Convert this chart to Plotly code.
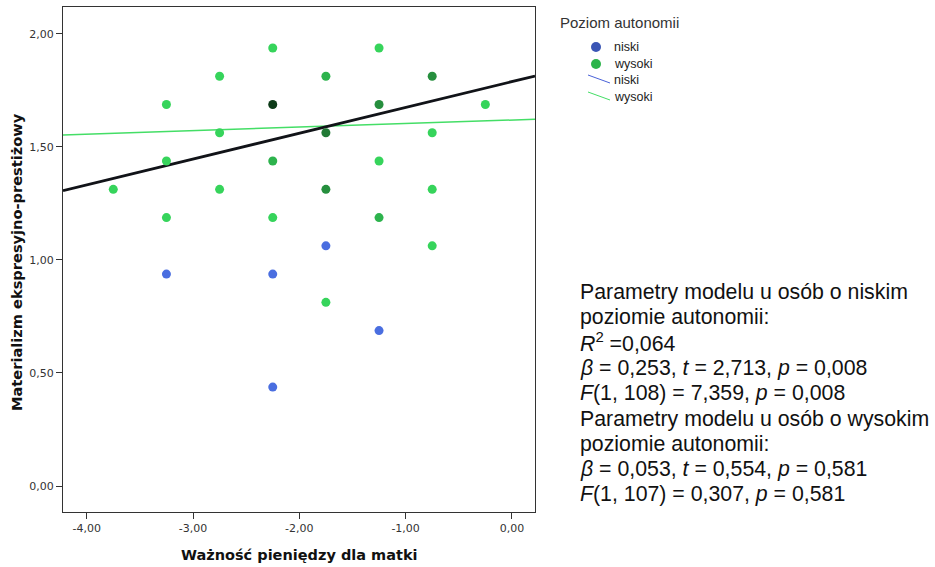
import plotly.graph_objects as go

# ---- data ----
high_x = [-2.25, -1.25, -2.75, -1.75, -0.75, -3.25, -2.25, -1.25, -0.25,
          -2.75, -1.75, -0.75, -3.25, -2.25, -1.25, -3.75, -2.75, -1.75, -0.75,
          -3.25, -2.25, -1.25, -0.75, -1.75]
high_y = [1.9375, 1.9375, 1.8125, 1.8125, 1.8125, 1.6875, 1.6875, 1.6875, 1.6875,
          1.5625, 1.5625, 1.5625, 1.4375, 1.4375, 1.4375, 1.3125, 1.3125, 1.3125, 1.3125,
          1.1875, 1.1875, 1.1875, 1.0625, 0.8125]
high_n = [1, 1, 1, 2, 3, 1, 6, 3, 1,
          1, 4, 1, 1, 2, 1, 1, 1, 3, 1,
          1, 1, 2, 1, 1]

low_x = [-1.75, -3.25, -2.25, -1.25, -2.25]
low_y = [1.0625, 0.9375, 0.9375, 0.6875, 0.4375]

# fit lines: intercept, slope
fit_low = (1.789, 0.1142)
fit_high = (1.619, 0.0156)

x_range = [-4.223, 0.217]
y_range = [-0.115, 2.119]

x_ticks = [-4, -3, -2, -1, 0]
x_tick_labels = ["-4,00", "-3,00", "-2,00", "-1,00", "0,00"]
y_ticks = [0, 0.5, 1.0, 1.5, 2.0]
y_tick_labels = ["0,00", "0,50", "1,00", "1,50", "2,00"]

legend_title = "Poziom autonomii"
legend_labels = ["niski", "wysoki"]

stats_lines = [
    "Parametry modelu u osób o niskim",
    "poziomie autonomii:",
    "<i>R</i><sup>2</sup> =0,064",
    "<i>β</i> = 0,253, <i>t</i> = 2,713, <i>p</i> = 0,008",
    "<i>F</i>(1, 108) = 7,359, <i>p</i> = 0,008",
    "Parametry modelu u osób o wysokim",
    "poziomie autonomii:",
    "<i>β</i> = 0,053, <i>t</i> = 0,554, <i>p</i> = 0,581",
    "<i>F</i>(1, 107) = 0,307, <i>p</i> = 0,581",
]

# ---- styles ----
FONT = "Liberation Sans, Arial, sans-serif"
FONT_AX = "DejaVu Sans, Verdana, sans-serif"
count_colors = {1: "#36d45b", 2: "#2db34d", 3: "#268f3e", 4: "#217a35", 6: "#0d3b18"}
high_colors = [count_colors[n] for n in high_n]
blue_pt = "#4a6ee0"
legend_marker_colors = ["#3a55b5", "#2bb44a"]
legend_line_colors = ["#4a62d8", "#44de66"]

fig = go.Figure()


def line_y(fit):
    return [fit[0] + fit[1] * x for x in x_range]


fig.add_trace(go.Scatter(x=x_range, y=line_y(fit_high), mode="lines",
                         line=dict(color="#44de66", width=1.5),
                         showlegend=False, hoverinfo="skip"))
fig.add_trace(go.Scatter(x=x_range, y=line_y(fit_low), mode="lines",
                         line=dict(color="#111318", width=2.8),
                         showlegend=False, hoverinfo="skip"))

fig.add_trace(go.Scatter(x=high_x, y=high_y, mode="markers",
                         marker=dict(color=high_colors, size=9, line=dict(width=0)),
                         showlegend=False))
fig.add_trace(go.Scatter(x=low_x, y=low_y, mode="markers",
                         marker=dict(color=blue_pt, size=9, line=dict(width=0)),
                         showlegend=False))

L, R, T, B = 63, 400, 7, 55
W, H = 935, 567
pw = W - L - R
ph = H - T - B


def px_x(p):
    return (p - L) / pw


def px_y(p):
    return 1 - (p - T) / ph


axis_common = dict(showline=True, linecolor="#333333", linewidth=1, mirror=True,
                   ticks="outside", ticklen=6, tickcolor="#333333",
                   tickfont=dict(family=FONT_AX, size=11, color="#333333"),
                   showgrid=False, zeroline=False, automargin=False)

fig.update_layout(
    width=W, height=H,
    margin=dict(l=L, r=R, t=T, b=B),
    paper_bgcolor="white", plot_bgcolor="white",
    showlegend=False,
    xaxis=dict(range=x_range, tickvals=x_ticks, ticktext=x_tick_labels, **axis_common),
    yaxis=dict(range=y_range, tickvals=y_ticks, ticktext=y_tick_labels, **axis_common),
)

# axis titles
fig.add_annotation(xref="paper", yref="paper", x=0.5, y=px_y(555),
                   xanchor="center", yanchor="middle", showarrow=False,
                   text="<b>Ważność pieniędzy dla matki</b>",
                   font=dict(family=FONT_AX, size=14.5, color="#111111"))
fig.add_annotation(xref="paper", yref="paper", x=px_x(16), y=px_y(262),
                   xanchor="center", yanchor="middle", showarrow=False, textangle=-90,
                   text="<b>Materializm ekspresyjno-prestiżowy</b>",
                   font=dict(family=FONT_AX, size=14.6, color="#111111"))

# legend (drawn manually to match the reference spacing)
fig.add_annotation(xref="paper", yref="paper", x=px_x(558), y=px_y(22),
                   xanchor="left", yanchor="middle", showarrow=False,
                   text=legend_title, font=dict(family=FONT, size=15, color="#333333"))
marker_rows = [47, 64]
line_rows = [80, 97]
for i, lab in enumerate(legend_labels):
    cy = marker_rows[i]
    fig.add_shape(type="circle", xref="paper", yref="paper",
                  xsizemode="pixel", ysizemode="pixel",
                  xanchor=px_x(596), yanchor=px_y(cy),
                  x0=-5, x1=5, y0=-5, y1=5,
                  fillcolor=legend_marker_colors[i], line=dict(width=0))
    fig.add_annotation(xref="paper", yref="paper", x=px_x(612), y=px_y(cy),
                       xanchor="left", yanchor="middle", showarrow=False,
                       text=lab, font=dict(family=FONT, size=12.5, color="#222222"))
for i, lab in enumerate(legend_labels):
    cy = line_rows[i]
    fig.add_shape(type="line", xref="paper", yref="paper",
                  x0=px_x(588), x1=px_x(610), y0=px_y(cy - 5), y1=px_y(cy + 3),
                  line=dict(color=legend_line_colors[i], width=1))
    fig.add_annotation(xref="paper", yref="paper", x=px_x(612), y=px_y(cy),
                       xanchor="left", yanchor="middle", showarrow=False,
                       text=lab, font=dict(family=FONT, size=12.5, color="#222222"))

# statistics text
line_y0 = 292
line_step = 25.3
for i, txt in enumerate(stats_lines):
    fig.add_annotation(xref="paper", yref="paper", x=px_x(578), y=px_y(line_y0 + i * line_step),
                       xanchor="left", yanchor="middle", showarrow=False, align="left",
                       text=txt, font=dict(family=FONT, size=21.3, color="#111111"))

fig.write_html("out.html", config={"displayModeBar": False},
               post_script="document.body.style.margin='0';document.body.style.overflow='hidden';")
